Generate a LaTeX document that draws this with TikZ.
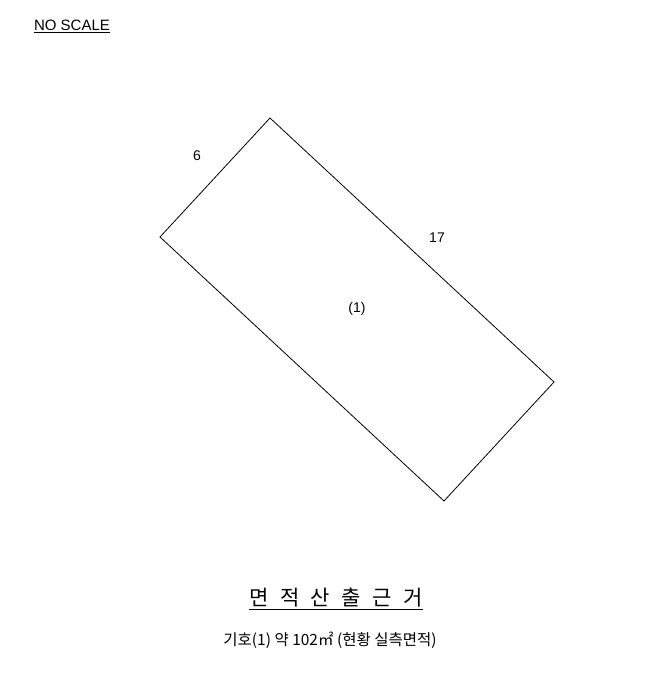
\documentclass[tikz,border=0pt]{standalone}
\usepackage{fontspec}
\setmainfont{Liberation Sans}
\newfontfamily\kr{Noto Sans CJK KR}
\begin{document}
\begin{tikzpicture}[x=1pt,y=-1pt,
  lbl/.style={inner sep=0pt,font=\fontsize{14}{16}\selectfont},
  edge/.style={draw=black,line width=0.8pt}]
\useasboundingbox (0,0) rectangle (671,700);
\coordinate (t) at (270,118);
\coordinate (l) at (160,237);
\coordinate (b) at (444,501);
\coordinate (r) at (554,382);
\draw[edge,line join=miter] (t) -- (l) -- (b) -- (r) -- cycle;
\node[inner sep=0pt,font=\fontsize{15}{17}\selectfont] (nos) at (72,26) {\underline{NO SCALE}};
\node[lbl] (six) at (197,156) {6};
\node[lbl] (svt) at (437,238) {17};
\node[lbl] (one) at (357,309) {(1)};
\node[inner sep=0pt,font=\kr\fontsize{21}{24}\selectfont] (title) at (336,599) {\underline{면\hspace{0.55em}적\hspace{0.55em}산\hspace{0.55em}출\hspace{0.55em}근\hspace{0.55em}거}};
\node[inner sep=0pt,font=\kr\fontsize{15.5}{18}\selectfont] (sub) at (330,640) {기호(1) 약 102㎡ (현황 실측면적)};
\end{tikzpicture}
\end{document}
